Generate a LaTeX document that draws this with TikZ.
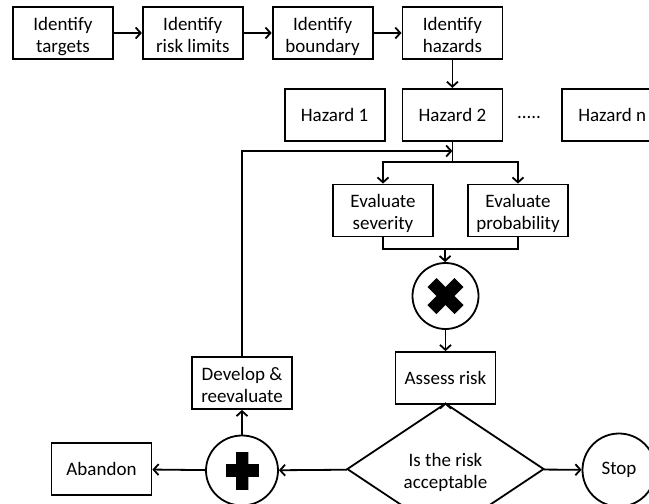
\documentclass[tikz,border=0pt]{standalone}
\usepackage{fontspec}
\setmainfont{Carlito}
\usetikzlibrary{shapes.geometric,arrows.meta,positioning}
\newcommand{\topgap}{\rule{0pt}{21pt}}
\newcommand{\botgap}{\rule[-5pt]{0pt}{5pt}}

\begin{document}
\begin{tikzpicture}[x=1pt,y=-1pt,node distance=28pt,
  box/.style={draw,line width=1.8pt,align=center,minimum width=100pt,minimum height=52pt,inner sep=0pt,font=\fontsize{19}{22}\selectfont},
  ring/.style={draw,circle,line width=1.8pt,minimum size=68pt,inner sep=0pt,font=\fontsize{19}{22}\selectfont},
  decide/.style={draw,diamond,line width=1.8pt,minimum width=197pt,minimum height=74pt,inner sep=0pt,align=center,font=\fontsize{19}{22}\selectfont},
  arr/.style={-{Straight Barb[length=5pt,width=11pt]},line width=1.8pt},
  lin/.style={line width=1.8pt},
  glyph/.style={line width=12.5pt,black},
  shade/.style={line width=13pt,black!35}]
\useasboundingbox (0,0) rectangle (649,504);
% top row
\node[box] (targets) at (63,33) {\topgap Identify\\targets\botgap};
\node[box,right=of targets] (limits) {\topgap Identify\\risk limits\botgap};
\node[box,right=of limits] (boundary) {\topgap Identify\\boundary\botgap};
\node[box,right=of boundary] (hazards) {\topgap Identify\\hazards\botgap};
% hazards
\node[box,below=of hazards] (haz2) {Hazard 2};
\node[box,left=16pt of haz2] (haz1) {Hazard 1};
\node[box,right=58pt of haz2] (hazn) {Hazard n};
\node[font=\fontsize{19}{22}\selectfont] (dots) at (529,117) {.....};
% evaluation
\coordinate (split) at (haz2.south |- 0,162);
\coordinate (back) at (haz2.south |- 0,151);
\node[box] (sev) at (383,210.5) {\topgap Evaluate\\severity\botgap};
\node[box] (prob) at (518,210.5) {\topgap Evaluate\\probability\botgap};
\coordinate (merge) at (445,249);
\node[ring,minimum size=66pt] (xc) at (445.5,296) {};
\node[box] (assess) at (445.5,378) {Assess risk};
\node[decide] (accept) at (445.5,469) {\topgap Is the risk\\acceptable\botgap};
\node[ring,minimum size=73pt] (stop) at (619,470) {Stop};
\node[ring,minimum width=72pt,minimum height=70pt,ellipse] (plus) at (242,470.5) {};
\node[box] (abandon) at (101.5,469) {Abandon};
\node[box] (develop) at (242,383) {\topgap Develop \&\\reevaluate\botgap};
% glyphs with soft shadow
\begin{scope}[shift={(1.5,1.5)}]
\draw[shade] ([shift={(-13.5,-13.5)}]xc.center) -- ([shift={(13.5,13.5)}]xc.center);
\draw[shade] ([shift={(-13.5,13.5)}]xc.center) -- ([shift={(13.5,-13.5)}]xc.center);
\draw[shade] ([shift={(0,-19)}]plus.center) -- ([shift={(0,19)}]plus.center);
\draw[shade] ([shift={(-16.5,0)}]plus.center) -- ([shift={(16.5,0)}]plus.center);
\end{scope}
\draw[glyph] ([shift={(-13.5,-13.5)}]xc.center) -- ([shift={(13.5,13.5)}]xc.center);
\draw[glyph] ([shift={(-13.5,13.5)}]xc.center) -- ([shift={(13.5,-13.5)}]xc.center);
\draw[glyph] ([shift={(0,-19)}]plus.center) -- ([shift={(0,19)}]plus.center);
\draw[glyph] ([shift={(-16.5,0)}]plus.center) -- ([shift={(16.5,0)}]plus.center);
% connectors
\draw[arr] (targets) -- (limits);
\draw[arr] (limits) -- (boundary);
\draw[arr] (boundary) -- (hazards);
\draw[arr] (hazards) -- (haz2);
\draw[lin] (haz2.south) -- (split);
\draw[arr] (split) -| (sev.north);
\draw[arr] (split) -| (prob.north);
\draw[lin] (sev.south) |- (merge) -| (prob.south);
\draw[arr] (merge) -- (xc);
\draw[arr] (xc) -- (assess);
\draw[arr] (assess) -- (accept);
\draw[arr] (accept) -- (stop);
\draw[arr] (accept) -- (plus);
\draw[arr] (plus) -- (abandon);
\draw[arr] (plus) -- (develop);
\draw[arr] (develop.north) |- (back);
\end{tikzpicture}
\end{document}
